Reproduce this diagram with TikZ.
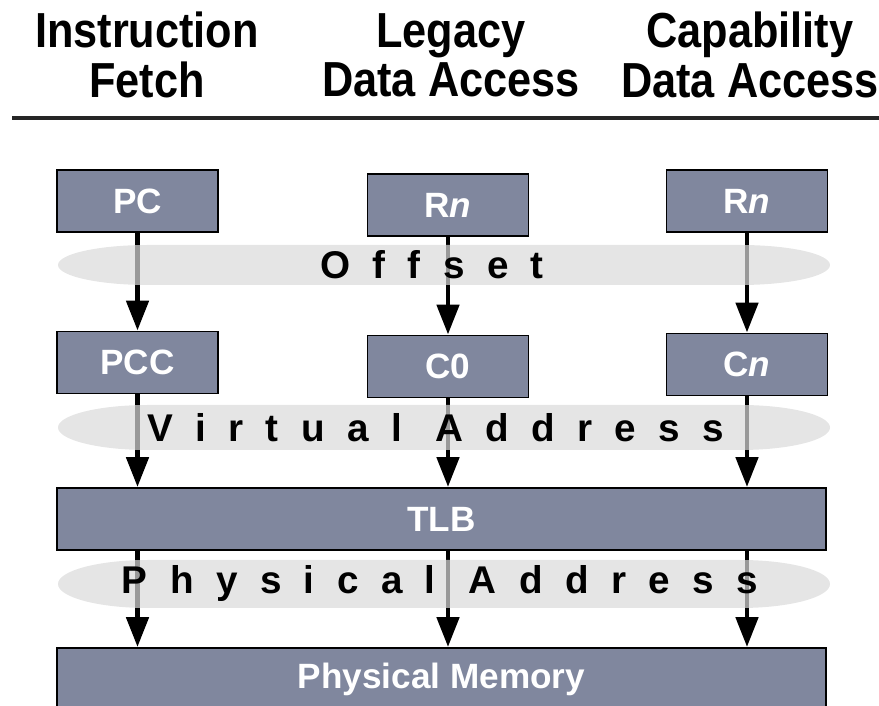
\documentclass[tikz,border=0pt]{standalone}
\usepackage{fontspec}
\setmainfont{Liberation Sans}
\newfontfamily\bandfont{Liberation Sans}[LetterSpace=58]
\usetikzlibrary{arrows.meta}
\definecolor{boxblue}{RGB}{128,135,158}
\definecolor{bandgray}{RGB}{218,218,218}
\begin{document}
\begin{tikzpicture}

\tikzstyle{head}=[align=center, font=\fontsize{28}{28}\selectfont\bfseries, xscale=0.88]
\tikzstyle{reg}=[rectangle, draw, line width=1.1pt, fill=boxblue, minimum width=3.22cm, minimum height=1.24cm, text=white, font=\fontsize{20}{20}\selectfont\bfseries]
\tikzstyle{wide}=[reg, minimum width=15.38cm]
\tikzstyle{arrow}=[-{Triangle[length=6mm,width=4.4mm]}, line width=2.8pt]
\tikzstyle{band}=[fill=bandgray, fill opacity=0.7]
\tikzstyle{bandtext}=[font=\fontsize{22}{22}\bandfont\bfseries]

\useasboundingbox (0,0) rectangle (17.58,14.12);

\node (H1) [head] at (2.94, 13.02) {Instruction\\Fetch};
\node (H2) [head] at (9.02, 13.02) {Legacy\\Data Access};
\node (H3) [head] at (15.0, 13.02) {Capability\\Data Access};
\draw [line width=1.8pt, black!85] (0.24, 11.76) -- (17.58, 11.76);

\node (PC)  [reg] at (2.75, 10.10) {PC};
\node (RL)  [reg] at (8.96, 10.02) {R\textit{n}};
\node (RC)  [reg] at (14.94, 10.10) {R\textit{n}};
\node (PCC) [reg] at (2.75, 6.87) {PCC};
\node (C0)  [reg] at (8.96, 6.79) {C0};
\node (Cn)  [reg] at (14.94, 6.83) {C\textit{n}};
\node (TLB) [wide] at (8.83, 3.74) {TLB};
\node (Mem) [wide] at (8.83, 0.54) {Physical Memory};

\draw [arrow] (PC) -- (PCC);
\draw [arrow] (RL) -- (C0);
\draw [arrow] (RC) -- (Cn);
\draw [arrow] (PCC.south) -- (PCC.south |- TLB.north);
\draw [arrow] (C0.south) -- (C0.south |- TLB.north);
\draw [arrow] (Cn.south) -- (Cn.south |- TLB.north);
\draw [arrow] (TLB.south -| PCC.south) -- (Mem.north -| PCC.south);
\draw [arrow] (TLB.south -| C0.south) -- (Mem.north -| C0.south);
\draw [arrow] (TLB.south -| Cn.south) -- (Mem.north -| Cn.south);

\fill [band] (2.96, 9.22) -- (14.8, 9.22) arc[start angle=90, end angle=-90, x radius=1.8, y radius=0.4] -- (2.96, 8.42) arc[start angle=270, end angle=90, x radius=1.8, y radius=0.4] -- cycle;
\fill [band] (2.96, 6.02) -- (14.8, 6.02) arc[start angle=90, end angle=-90, x radius=1.8, y radius=0.45] -- (2.96, 5.12) arc[start angle=270, end angle=90, x radius=1.8, y radius=0.45] -- cycle;
\fill [band] (2.96, 2.92) -- (14.8, 2.92) arc[start angle=90, end angle=-90, x radius=1.8, y radius=0.48] -- (2.96, 1.96) arc[start angle=270, end angle=90, x radius=1.8, y radius=0.48] -- cycle;

\node (Off)  [bandtext] at (8.64, 8.82) {Offset};
\node (Virt) [bandtext] at (8.72, 5.57) {Virtual Address};
\node (Phys) [bandtext] at (8.80, 2.44) {Physical Address};

\end{tikzpicture}
\end{document}
